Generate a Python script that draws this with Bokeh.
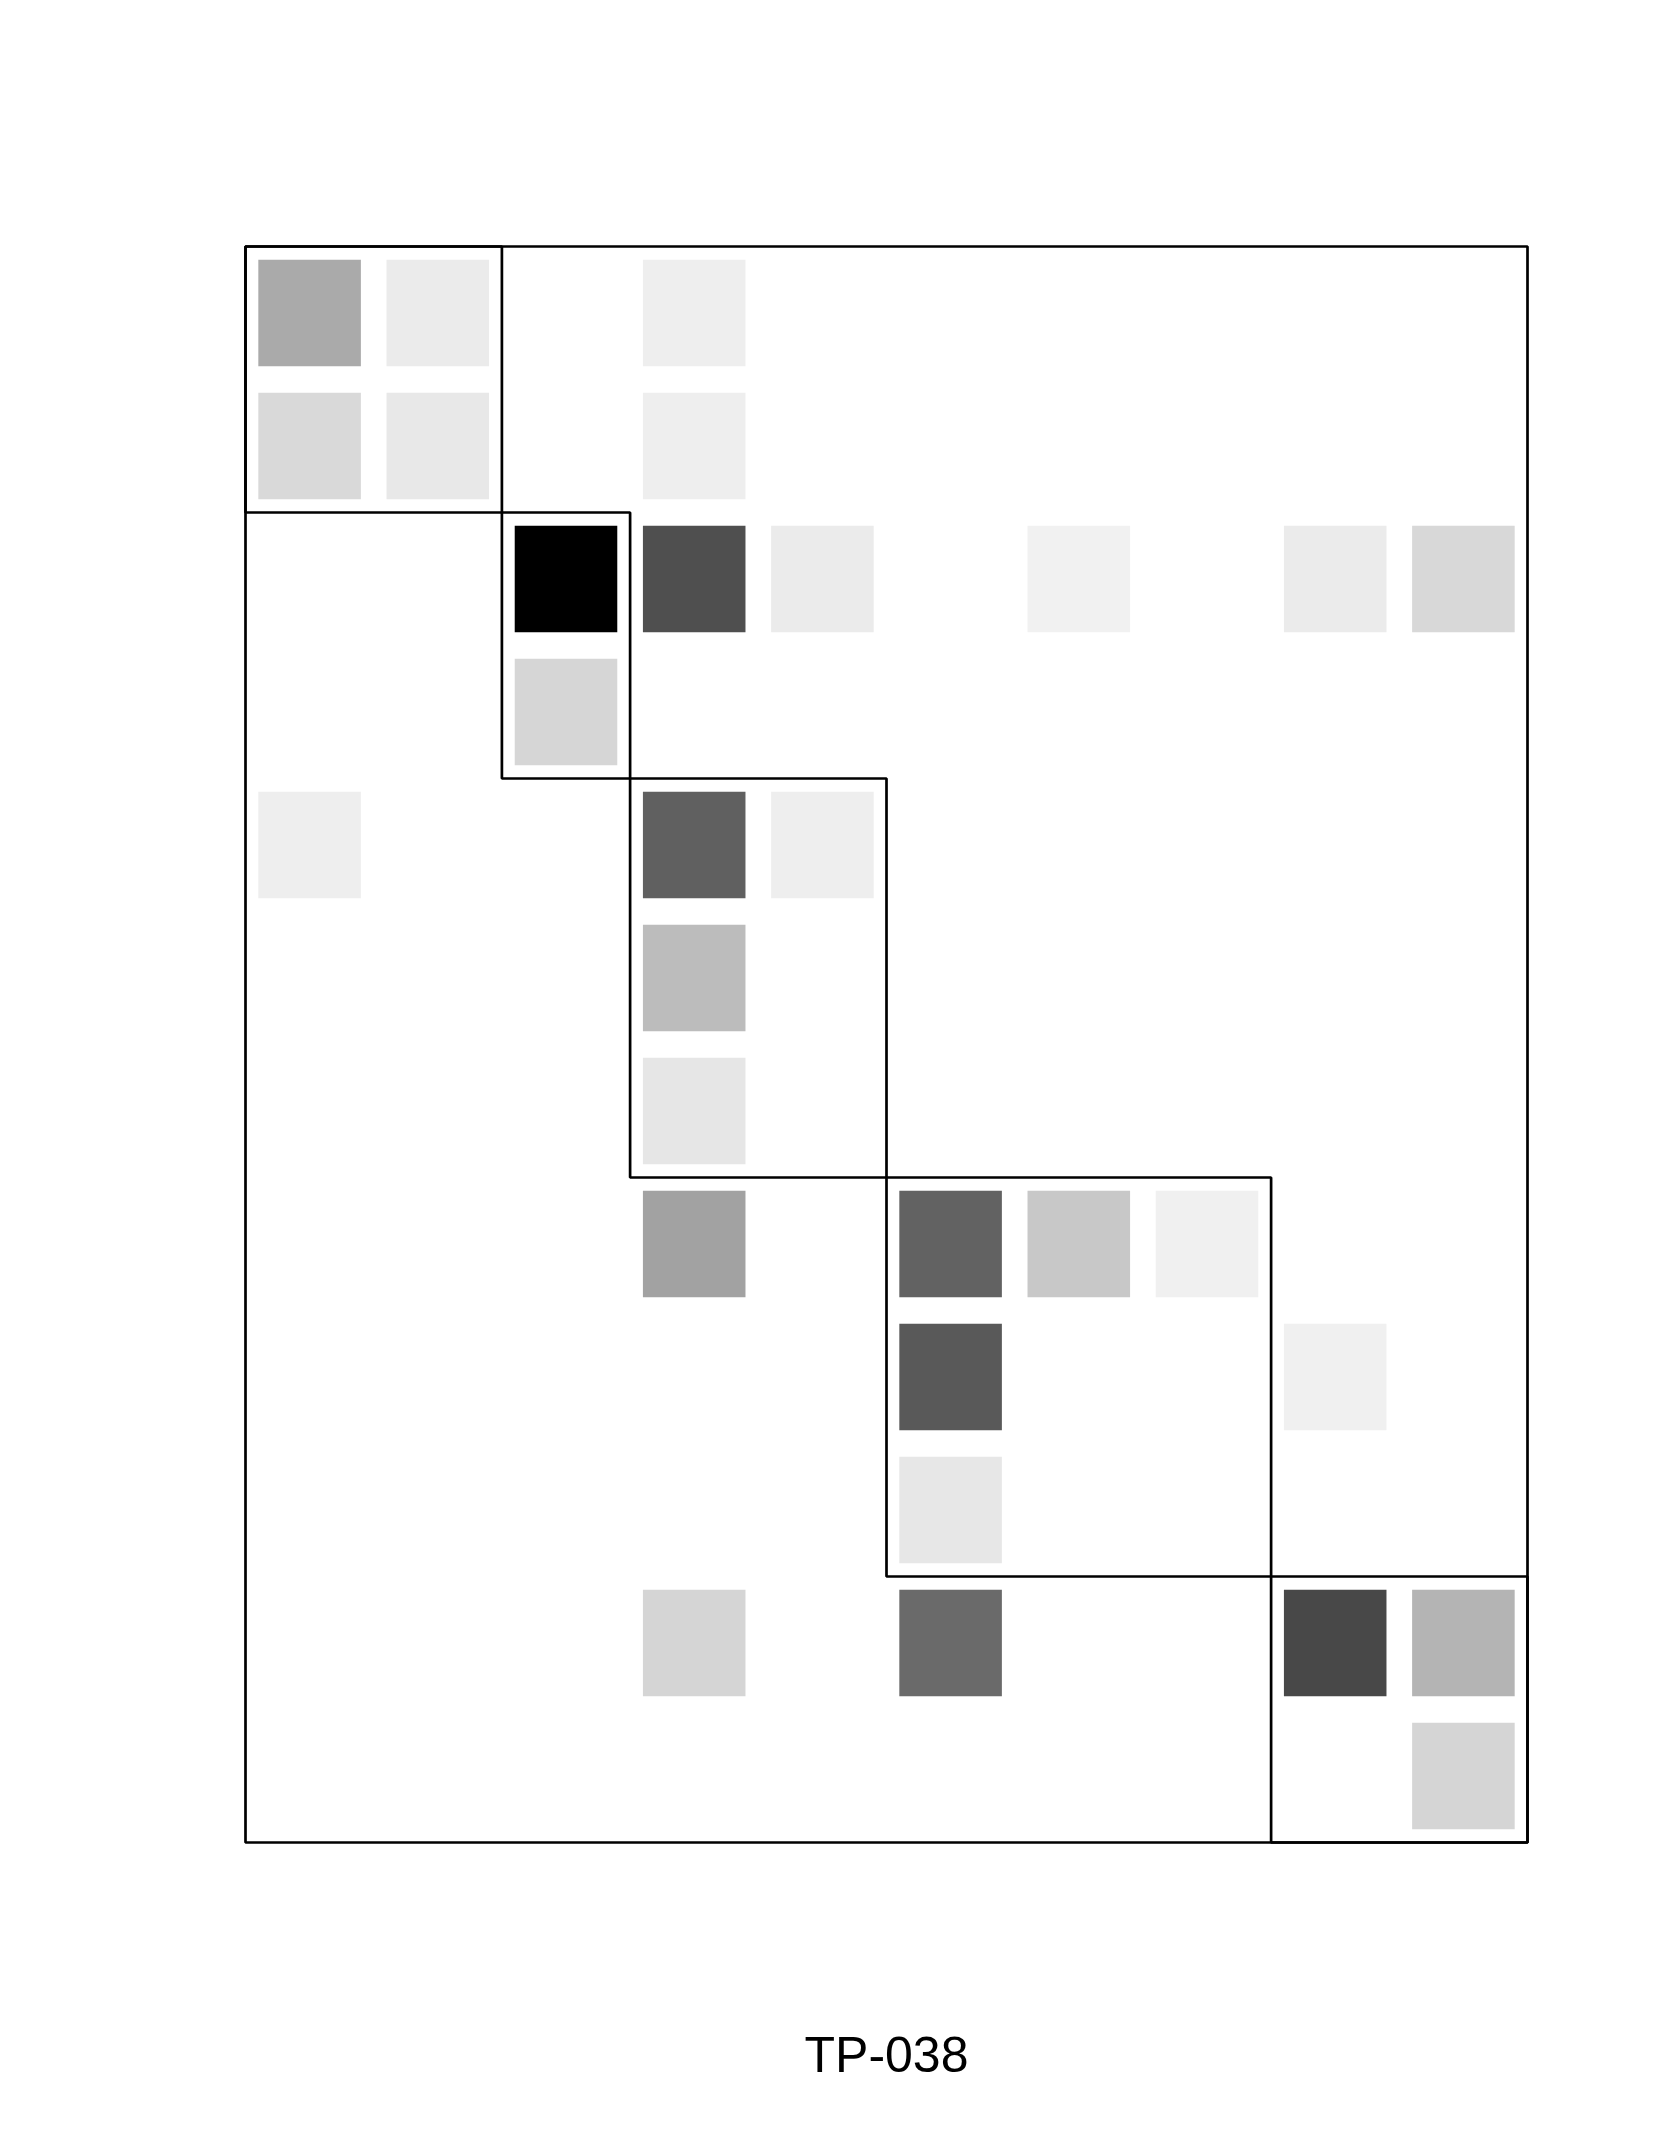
from bokeh.plotting import figure
from bokeh.models import Range1d, LinearColorMapper, ColumnDataSource
from bokeh.core.properties import value
from bokeh.embed import file_html
from bokeh.resources import INLINE

# ---- data ----
n_rows = 12
n_cols = 10
cell_row = [0, 0, 0, 1, 1, 1, 2, 2, 2, 2, 2, 2, 3, 4, 4, 4, 5, 6, 7, 7, 7, 7, 8, 8, 9, 10, 10, 10, 10, 11]
cell_col = [0, 1, 3, 0, 1, 3, 2, 3, 4, 6, 8, 9, 2, 0, 3, 4, 3, 3, 3, 5, 6, 7, 5, 8, 5, 3, 5, 8, 9, 9]
cell_val = [0.333, 0.082, 0.067, 0.149, 0.090, 0.067,
            1.000, 0.690, 0.082, 0.055, 0.082, 0.153,
            0.161,
            0.067, 0.624, 0.067,
            0.263,
            0.098,
            0.365, 0.616, 0.216, 0.059,
            0.651, 0.059,
            0.094,
            0.165, 0.584, 0.718, 0.294,
            0.165]

block_row0 = [0, 2, 4, 7, 10]
block_row1 = [2, 4, 7, 10, 12]
block_col0 = [0, 2, 3, 5, 8]
block_col1 = [2, 3, 5, 8, 10]

title_text = "TP-038"

# ---- layout ----
W, H = 1653, 2149
box_l, box_r, box_t, box_b = 245, 1527, 246, 1842
cw = (box_r - box_l) / n_cols
rh = (box_b - box_t) / n_rows

x_range = Range1d(start=-box_l / cw, end=n_cols + (W - box_r) / cw)
y_range = Range1d(start=n_rows + (H - box_b) / rh, end=-box_t / rh)

p = figure(width=W, height=H, x_range=x_range, y_range=y_range,
           output_backend="svg", toolbar_location=None,
           x_axis_type=None, y_axis_type=None, min_border=0)
p.grid.visible = False
p.outline_line_color = None
p.background_fill_color = "white"
p.border_fill_color = "white"

palette = ["#%02x%02x%02x" % (g, g, g) for g in range(255, -1, -1)]
mapper = LinearColorMapper(palette=palette, low=0, high=1)

src = ColumnDataSource(dict(
    x=[c + 0.5 for c in cell_col],
    y=[r + 0.5 for r in cell_row],
    v=cell_val,
))
p.rect(x="x", y="y", width=0.8, height=0.8, source=src,
       fill_color={"field": "v", "transform": mapper}, line_color=None)

# block outlines
p.quad(left=block_col0, right=block_col1, top=block_row0, bottom=block_row1,
       fill_color=None, line_color="black", line_width=2.7)
# outer frame
p.quad(left=[0], right=[n_cols], top=[0], bottom=[n_rows],
       fill_color=None, line_color="black", line_width=2.7)

# title below
title_y = n_rows + (2054 - box_b) / rh
p.text(x=[n_cols / 2], y=[title_y], text=[title_text],
       text_align="center", text_baseline="alphabetic",
       text_font=value("Liberation Sans"), text_font_size="50px",
       text_color="black")

open("out.html", "w").write(file_html(p, INLINE))
